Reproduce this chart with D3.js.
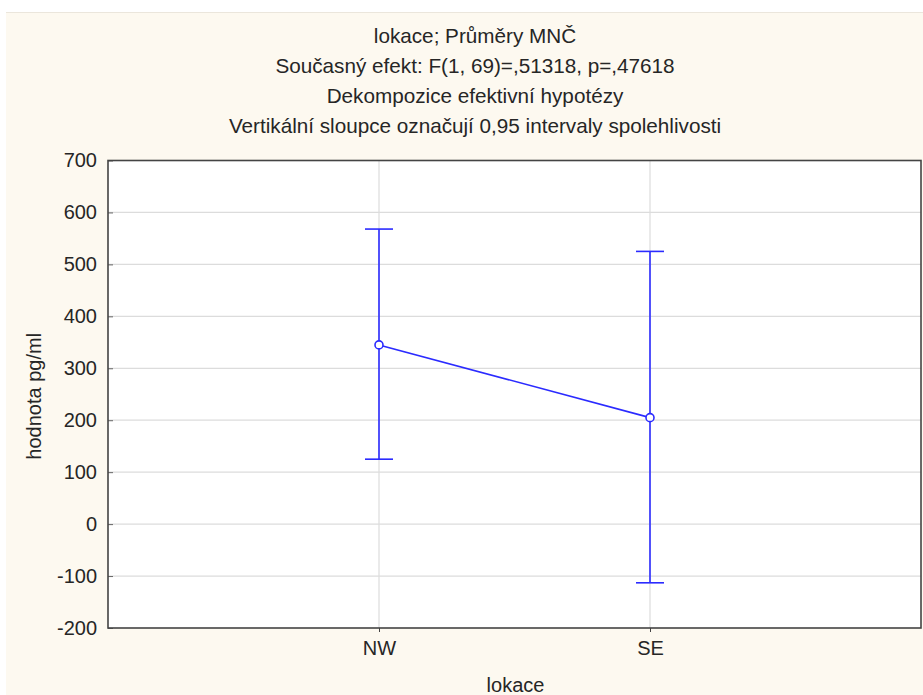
<!DOCTYPE html>
<html><head><meta charset="utf-8">
<script src="https://cdn.jsdelivr.net/npm/d3@7"></script>
<style>html,body{margin:0;padding:0;background:#fff;}svg{display:block;}</style>
</head><body>
<script>
const categories = ["NW", "SE"];
const means = [345, 205];
const upper = [568, 525];
const lower = [125, -113];
const yTicks = [-200, -100, 0, 100, 200, 300, 400, 500, 600, 700];
const titleLines = [
  "lokace; Průměry MNČ",
  "Současný efekt: F(1, 69)=,51318, p=,47618",
  "Dekompozice efektivní hypotézy",
  "Vertikální sloupce označují 0,95 intervaly spolehlivosti"
];
const xLabel = "lokace";
const yLabel = "hodnota pg/ml";

const W = 923, H = 695;
const m = {left: 108, right: 2, top: 160.5, bottom: 67};
const font = "'Liberation Sans', Arial, sans-serif";
const txt = "#262626";
const svg = d3.select("body").append("svg").attr("width", W).attr("height", H);

svg.append("rect").attr("x", 6).attr("y", 12).attr("width", W - 6).attr("height", H - 12)
  .attr("fill", "#fdf9f0");
svg.append("line").attr("x1", 6).attr("x2", W).attr("y1", 12.5).attr("y2", 12.5)
  .attr("stroke", "#ebe6dc");

const x = d3.scalePoint().domain(categories).range([m.left, W - m.right]).padding(1);
const y = d3.scaleLinear().domain([-200, 700]).range([H - m.bottom, m.top]);

svg.append("rect").attr("x", m.left).attr("y", m.top)
  .attr("width", W - m.right - m.left).attr("height", H - m.bottom - m.top).attr("fill", "#fff");

// gridlines
svg.append("g").selectAll("line").data(yTicks.slice(1, -1)).join("line")
  .attr("x1", m.left).attr("x2", W - m.right)
  .attr("y1", d => y(d)).attr("y2", d => y(d))
  .attr("stroke", "#dcdcdc").attr("stroke-width", 1.2);
svg.append("g").selectAll("line").data(categories).join("line")
  .attr("x1", d => x(d)).attr("x2", d => x(d))
  .attr("y1", m.top).attr("y2", H - m.bottom)
  .attr("stroke", "#dcdcdc").attr("stroke-width", 1.2);

// axes
const yAxis = svg.append("g").attr("transform", `translate(${m.left},0)`)
  .call(d3.axisLeft(y).tickValues(yTicks).tickSizeInner(-5).tickSizeOuter(0).tickPadding(11)
    .tickFormat(d => String(d)));
yAxis.select(".domain").remove();
yAxis.selectAll("line").attr("stroke", "#666");
yAxis.selectAll("text").attr("font-family", font).attr("font-size", 20).attr("fill", txt);

const xAxis = svg.append("g").attr("transform", `translate(0,${H - m.bottom})`)
  .call(d3.axisBottom(x).tickSize(4).tickPadding(9));
xAxis.select(".domain").remove();
xAxis.selectAll("line").attr("stroke", "#444");
xAxis.selectAll("text").attr("font-family", font).attr("font-size", 20).attr("fill", txt);

// frame
svg.append("rect").attr("x", m.left).attr("y", m.top)
  .attr("width", W - m.right - m.left).attr("height", H - m.bottom - m.top)
  .attr("fill", "none").attr("stroke", "#444").attr("stroke-width", 1.6);

// error bars
const blue = "#2b2bff";
const cap = 14;
const g = svg.append("g");
categories.forEach((c, i) => {
  g.append("line").attr("x1", x(c)).attr("x2", x(c)).attr("y1", y(upper[i])).attr("y2", y(lower[i]))
    .attr("stroke", blue).attr("stroke-width", 1.6);
  [upper[i], lower[i]].forEach(v => {
    g.append("line").attr("x1", x(c) - cap).attr("x2", x(c) + cap).attr("y1", y(v)).attr("y2", y(v))
      .attr("stroke", blue).attr("stroke-width", 1.6);
  });
});
g.append("path").datum(categories.map((c, i) => [x(c), y(means[i])]))
  .attr("d", d3.line()).attr("fill", "none").attr("stroke", blue).attr("stroke-width", 1.6);
g.selectAll("circle").data(categories).join("circle")
  .attr("cx", d => x(d)).attr("cy", (d, i) => y(means[i])).attr("r", 4)
  .attr("fill", "#fff").attr("stroke", blue).attr("stroke-width", 1.6);

// titles
svg.append("g").selectAll("text").data(titleLines).join("text")
  .attr("x", 475).attr("y", (d, i) => 43.3 + i * 29.8)
  .attr("text-anchor", "middle").attr("font-family", font).attr("font-size", 20.7).attr("fill", txt)
  .text(d => d);

svg.append("text").attr("x", (m.left + W - m.right) / 2 + 1).attr("y", 691.5)
  .attr("text-anchor", "middle").attr("font-family", font).attr("font-size", 20).attr("fill", txt)
  .text(xLabel);
svg.append("text").attr("transform", `translate(41,${(m.top + H - m.bottom) / 2 + 2}) rotate(-90)`)
  .attr("text-anchor", "middle").attr("font-family", font).attr("font-size", 20).attr("fill", txt)
  .text(yLabel);
</script>
</body></html>
